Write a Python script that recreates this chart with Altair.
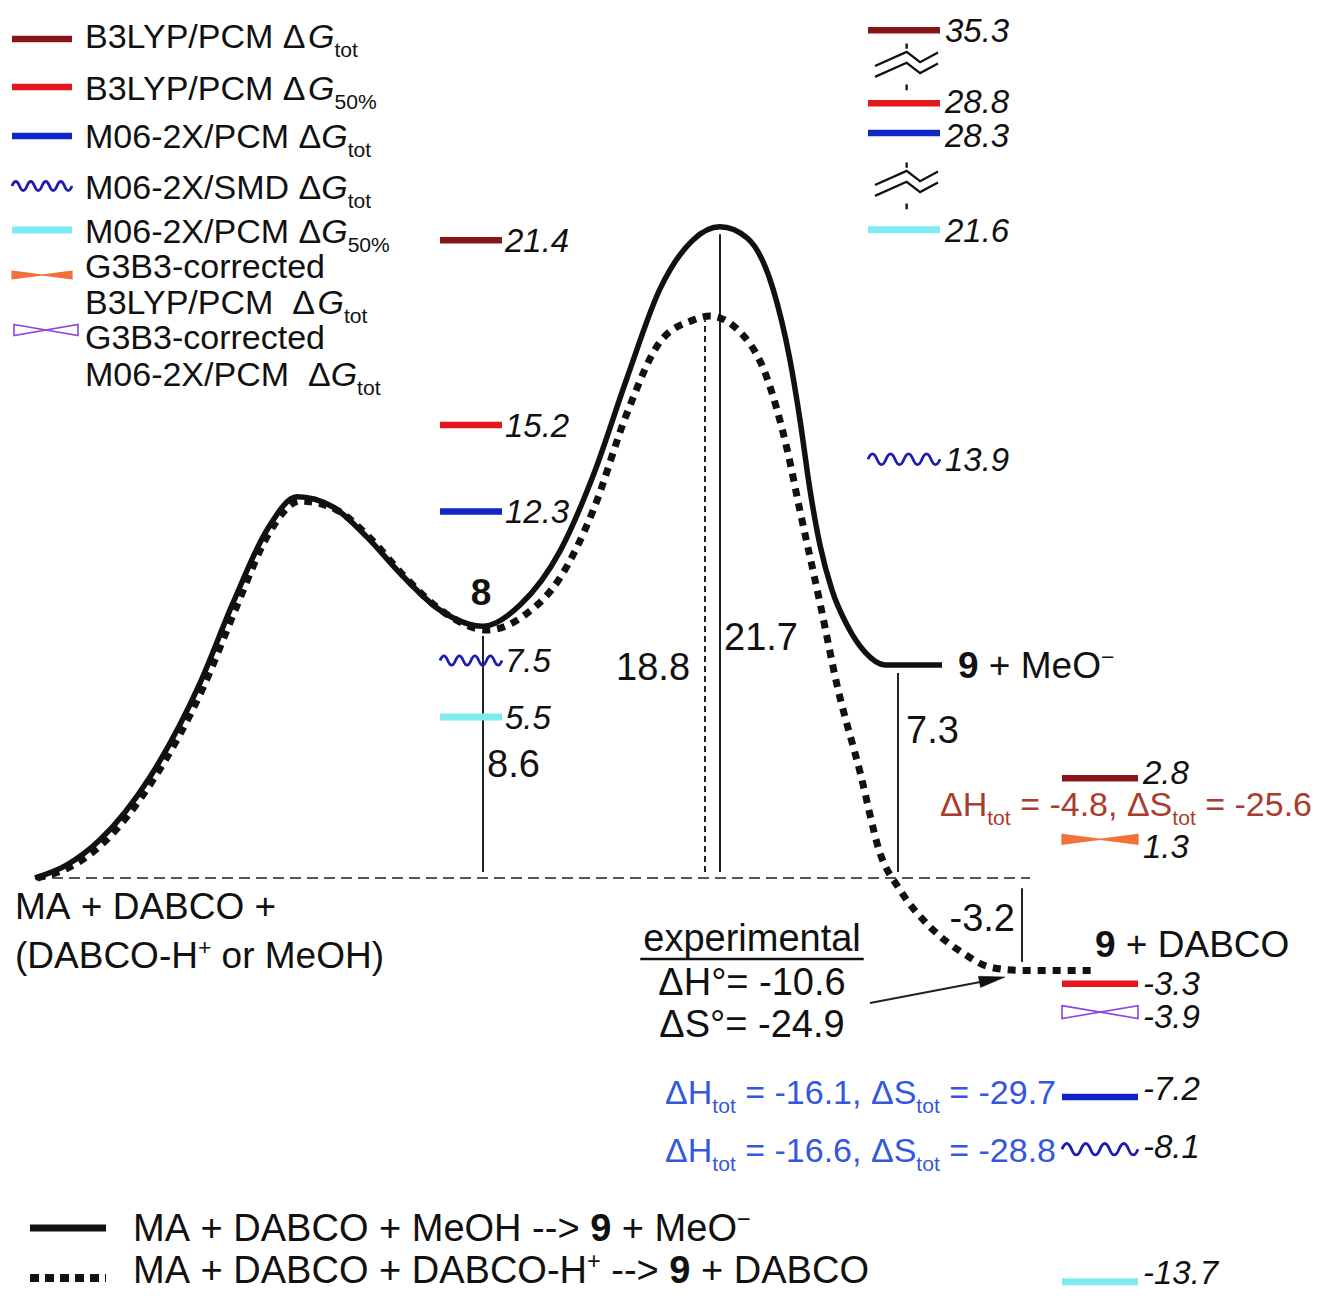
import altair as alt
import pandas as pd

# ---------------- data ----------------
# Reaction profiles: reaction coordinate (arbitrary units) and free energy (kcal/mol)
solid_rc = [35, 67, 100, 150, 200, 233, 267, 297, 333, 367, 400, 440, 483, 520, 560, 593, 627,
            660, 693, 720, 747, 773, 790, 800, 810, 820, 832, 847, 865, 885, 942]
solid_G = [0.0, 0.44, 1.28, 3.39, 6.54, 9.23, 11.68, 12.79, 12.45, 11.44, 10.23, 8.99, 8.45, 9.16,
           10.97, 13.49, 16.78, 19.77, 21.41, 21.85, 21.48, 19.77, 17.38, 15.37, 13.02, 11.17, 9.66,
           8.49, 7.58, 7.15, 7.15]
dash_rc = [37, 70, 103, 153, 203, 236, 268, 300, 335, 372, 404, 445, 487, 525, 560, 593, 627, 660,
           693, 710, 737, 767, 787, 800, 820, 837, 860, 880, 900, 930, 963, 990, 1020, 1097]
dash_G = [0.0, 0.37, 1.17, 3.29, 6.38, 9.06, 11.51, 12.65, 12.38, 11.34, 10.13, 8.89, 8.32, 8.83,
          10.07, 12.32, 15.60, 17.99, 18.72, 18.86, 18.42, 16.78, 14.40, 12.32, 9.23, 6.48, 3.56,
          0.84, -0.40, -1.64, -2.52, -2.99, -3.10, -3.10]

# energy gaps drawn as thin vertical lines
gap_labels = ["8.6", "21.7", "18.8", "7.3", "-3.2"]
gap_rc = [483, 720, 705, 898, 1022]
gap_top = [8.12, 21.6, 18.72, 6.88, -0.34]
gap_bot = [0.2, 0.2, 0.2, 0.2, -2.82]
gap_dashed = [False, False, True, False, False]

# computed levels: value (label) and the height at which the figure draws it
colA_meth = ["b3tot", "b350", "m06tot", "smd", "m0650"]
colA_vals = [21.4, 15.2, 12.3, 7.5, 5.5]
colA_pos = [21.4, 15.2, 12.3, 7.3, 5.4]
colB_meth = ["b3tot", "b350", "m06tot", "m0650", "smd"]
colB_vals = [35.3, 28.8, 28.3, 21.6, 13.9]
colB_pos = [28.45, 26.0, 25.0, 21.75, 14.05]          # broken axis above 21.6
colC_meth = ["b3tot", "g3b3", "b350", "g3m06", "m06tot", "smd", "m0650"]
colC_vals = [2.8, 1.3, -3.3, -3.9, -7.2, -8.1, -13.7]
colC_pos = [3.35, 1.3, -3.55, -4.5, -7.35, -9.1, -13.55]
colC_label_dy = [-6, 7, -1, 4, -9, -3, -10]

legend_methods = ["b3tot", "b350", "m06tot", "smd", "m0650", "g3b3", "g3m06"]

# ---------------- layout / style ----------------
W, H = 1303, 1282
PX = 29.8        # px per kcal/mol
ZERO = 878       # page y of 0 kcal/mol


def E(py):
    return (ZERO - py) / PX


FONT = "Liberation Sans"
DARKRED = "#86161a"
RED = "#e3171c"
BLUE = "#1124c6"
WBLUE = "#1c1cb0"
CYAN = "#7eecef"
ORANGE = "#f07238"
PURPLE = "#8d45dc"
BRICK = "#a83c2e"
LBLUE = "#3557dd"
INK = "#111111"

BAR = "M -1 0 L 1 0"
WAVE = ("M -1 0 Q -0.875 -0.3 -0.75 0 Q -0.625 0.3 -0.5 0 Q -0.375 -0.3 -0.25 0 "
        "Q -0.125 0.3 0 0 Q 0.125 -0.3 0.25 0 Q 0.375 0.3 0.5 0 Q 0.625 -0.3 0.75 0 Q 0.875 0.3 1 0")
BOW_O = "M -1 -0.13 L 1 0.13 L 1 -0.13 L -1 0.13 Z"
BOW_P = "M -1 -0.17 L 1 0.17 L 1 -0.17 L -1 0.17 Z"
BREAK = ("M -0.97 0.0 L 0.02 -0.44 L 0.44 -0.12 L 1 -0.42 "
         "M -0.97 0.34 L 0.02 -0.1 L 0.44 0.22 L 1 -0.08 "
         "M 0.02 -0.7 L 0.02 -0.54 M 0.02 0.58 L 0.02 0.76")
ARROW = "M 0 0 L -1 -0.22 L -1 0.22 Z"

STY = {
    "b3tot": (BAR, DARKRED, 6.5, False),
    "b350": (BAR, RED, 6.5, False),
    "m06tot": (BAR, BLUE, 6.5, False),
    "smd": (WAVE, WBLUE, 2.8, False),
    "m0650": (BAR, CYAN, 7.0, False),
    "g3b3": (BOW_O, ORANGE, 1.2, True),
    "g3m06": (BOW_P, PURPLE, 1.6, False),
}

AW = {' ': 278, '%': 889, '(': 333, ')': 333, '+': 584, ',': 278, '-': 333, '.': 278, '/': 278,
      '=': 584, '>': 584, '°': 400, 'Δ': 668, '−': 584,
      'A': 667, 'B': 667, 'C': 722, 'D': 722, 'G': 778, 'H': 722, 'L': 556, 'M': 833, 'O': 778,
      'P': 667, 'S': 667, 'X': 667, 'Y': 667,
      'a': 556, 'c': 500, 'd': 556, 'e': 556, 'i': 222, 'l': 222, 'm': 833, 'n': 556, 'o': 556,
      'p': 556, 'r': 333, 't': 278, 'x': 500}
NB = "\u00a0"


def tw(s, fs):
    return sum(AW.get(c, 556) for c in s) / 1000.0 * fs


def runs(parts, x, ybase, size, color, anchor="start"):
    segs = []
    for t, k in parts:
        fs = size * 0.62 if k in ("sub", "sup") else size
        segs.append((t, k, fs, tw(t, fs)))
    total = sum(s[3] for s in segs)
    if anchor == "middle":
        x -= total / 2
    elif anchor == "end":
        x -= total
    out = []
    for t, k, fs, w in segs:
        dy = size * 0.27 if k == "sub" else (-size * 0.36 if k == "sup" else 0.0)
        body = t.lstrip(" ")
        lead = tw(t[: len(t) - len(body)], fs)
        body = body.rstrip(" ")
        if body:
            out.append(dict(x=x + lead, y=E(ybase + dy), text=body.replace(" ", NB), size=fs,
                            color=color, style="italic" if k == "i" else "normal",
                            weight="bold" if k == "b" else "normal"))
        x += w
    return out


# ---------------- build tables ----------------
curve_solid = pd.DataFrame({"x": solid_rc, "y": solid_G})
curve_dash = pd.DataFrame({"x": dash_rc, "y": dash_G})

LBL = 33
stroke_pts, fill_pts, texts = [], [], []
columns = [
    (471, 62, 505, colA_meth, colA_vals, colA_pos, [0] * 5),
    (904, 72, 945, colB_meth, colB_vals, colB_pos, [0, -2, 2, 0, 0]),
    (1100, 76, 1143, colC_meth, colC_vals, colC_pos, colC_label_dy),
]
for cx, cw, lx, meths, vals, poss, ldy in columns:
    for m, v, p, d in zip(meths, vals, poss, ldy):
        shp, col, sw, filled = STY[m]
        row = dict(x=cx, y=p, shape=shp, size=cw * cw, stroke=col, fill=col, sw=sw, angle=0)
        (fill_pts if filled else stroke_pts).append(row)
        texts += runs([(f"{v:.1f}", "i")], lx, ZERO - p * PX + 12 + d, LBL, INK)

# legend (top left)
LEG = 34
leg_y = [39, 87, 136, 186, 230, 275, 330]
leg_text = [
    [(48, [("B3LYP/PCM Δ", "n"), ("G", "i"), ("tot", "sub")])],
    [(100, [("B3LYP/PCM Δ", "n"), ("G", "i"), ("50%", "sub")])],
    [(148, [("M06-2X/PCM Δ", "n"), ("G", "i"), ("tot", "sub")])],
    [(199, [("M06-2X/SMD Δ", "n"), ("G", "i"), ("tot", "sub")])],
    [(243, [("M06-2X/PCM Δ", "n"), ("G", "i"), ("50%", "sub")])],
    [(278, [("G3B3-corrected", "n")]), (314, [("B3LYP/PCM  Δ", "n"), ("G", "i"), ("tot", "sub")])],
    [(349, [("G3B3-corrected", "n")]), (386, [("M06-2X/PCM  Δ", "n"), ("G", "i"), ("tot", "sub")])],
]
for m, yy, lines in zip(legend_methods, leg_y, leg_text):
    shp, col, sw, filled = STY[m]
    wdt = 64 if m == "g3m06" else 60
    cxl = 46 if m == "g3m06" else 42
    row = dict(x=cxl, y=E(yy), shape=shp, size=wdt * wdt, stroke=col, fill=col, sw=sw, angle=0)
    (fill_pts if filled else stroke_pts).append(row)
    for bl, parts in lines:
        texts += runs(parts, 85, bl, LEG, INK)

# axis-break symbols and arrow head
for by in (66, 185):
    stroke_pts.append(dict(x=906, y=E(by), shape=BREAK, size=64 * 64, stroke=INK, fill=INK, sw=2.3, angle=0))
fill_pts.append(dict(x=1005, y=E(977), shape=ARROW, size=52 * 52, stroke=INK, fill=INK, sw=0.5, angle=349.1))

# rules
solid_rules, dashed_v = [], []
for lab, gx, top, bot, dsh in zip(gap_labels, gap_rc, gap_top, gap_bot, gap_dashed):
    r = dict(x=gx, x2=gx, y=bot, y2=top, sw=2.0, color="#222222")
    (dashed_v if dsh else solid_rules).append(r)
solid_rules.append(dict(x=870, x2=996, y=E(1003), y2=E(979), sw=2.0, color="#222222"))   # arrow shaft
solid_rules.append(dict(x=30, x2=106, y=E(1228), y2=E(1228), sw=7.0, color=INK))           # legend solid

# energy-gap labels
gap_text_pos = {"8.6": (487, 777, "start"), "21.7": (724, 650, "start"), "18.8": (690, 680, "end"),
                "7.3": (906, 743, "start"), "-3.2": (1015, 931, "end")}
for lab in gap_labels:
    gx, gy, anc = gap_text_pos[lab]
    texts += runs([(lab, "n")], gx, gy, 38, INK, anc)

# species labels
texts += runs([("8", "b")], 481, 605, 37, INK, "middle")
texts += runs([("9", "b"), (" + MeO", "n"), ("−", "sup")], 958, 678, 37, INK)
texts += runs([("9", "b"), (" + DABCO", "n")], 1095, 957, 37, INK)
texts += runs([("MA + DABCO +", "n")], 15, 919, 37, INK)
texts += runs([("(DABCO-H", "n"), ("+", "sup"), (" or MeOH)", "n")], 15, 968, 37, INK)

# experimental block
exp_w = tw("experimental", 38)
texts += runs([("experimental", "n")], 752, 951, 38, INK, "middle")
solid_rules.append(dict(x=752 - exp_w / 2 - 3, x2=752 + exp_w / 2 + 3, y=E(959), y2=E(959), sw=2.5, color=INK))
texts += runs([("ΔH°= -10.6", "n")], 752, 995, 38, INK, "middle")
texts += runs([("ΔS°= -24.9", "n")], 752, 1037, 38, INK, "middle")

# computed enthalpy / entropy annotations
texts += runs([("ΔH", "n"), ("tot", "sub"), (" = -4.8, ΔS", "n"), ("tot", "sub"), (" = -25.6", "n")],
              1312, 816, 34, BRICK, "end")
texts += runs([("ΔH", "n"), ("tot", "sub"), (" = -16.1, ΔS", "n"), ("tot", "sub"), (" = -29.7", "n")],
              1056, 1104, 34, LBLUE, "end")
texts += runs([("ΔH", "n"), ("tot", "sub"), (" = -16.6, ΔS", "n"), ("tot", "sub"), (" = -28.8", "n")],
              1056, 1162, 34, LBLUE, "end")

# bottom legend
texts += runs([("MA + DABCO + MeOH --> ", "n"), ("9", "b"), (" + MeO", "n"), ("−", "sup")], 133, 1241, 38, INK)
texts += runs([("MA + DABCO + DABCO-H", "n"), ("+", "sup"), (" --> ", "n"), ("9", "b"), (" + DABCO", "n")],
              133, 1283, 38, INK)

# ---------------- chart ----------------
XS = alt.Scale(domain=[8, 8 + W], nice=False, zero=False)
YS = alt.Scale(domain=[E(8 + H), E(8)], nice=False, zero=False)
xq = alt.X("x:Q", scale=XS, axis=None)
yq = alt.Y("y:Q", scale=YS, axis=None)

base_line = alt.Chart(pd.DataFrame([dict(x=35, x2=1030, y=0.0, y2=0.0)])).mark_rule(
    strokeDash=[11, 6], strokeWidth=2, color="#555555").encode(x=xq, x2="x2:Q", y=yq, y2="y2:Q")

dash_curve = alt.Chart(curve_dash).mark_line(
    interpolate="monotone", strokeWidth=7, strokeDash=[8, 7], color=INK, strokeCap="butt").encode(x=xq, y=yq)
solid_curve = alt.Chart(curve_solid).mark_line(
    interpolate="monotone", strokeWidth=5.5, color=INK, strokeJoin="round").encode(x=xq, y=yq)

rules_s = alt.Chart(pd.DataFrame(solid_rules)).mark_rule().encode(
    x=xq, x2="x2:Q", y=yq, y2="y2:Q",
    strokeWidth=alt.StrokeWidth("sw:Q", scale=None), color=alt.Color("color:N", scale=None))
rules_d = alt.Chart(pd.DataFrame(dashed_v)).mark_rule(strokeDash=[6, 4], strokeWidth=2, color="#222222").encode(
    x=xq, x2="x2:Q", y=yq, y2="y2:Q")
leg_dash = alt.Chart(pd.DataFrame([dict(x=30, x2=106, y=E(1278), y2=E(1278))])).mark_rule(
    strokeDash=[9, 6], strokeWidth=8, color=INK).encode(x=xq, x2="x2:Q", y=yq, y2="y2:Q")

pts_s = alt.Chart(pd.DataFrame(stroke_pts)).mark_point(filled=False, opacity=1, strokeCap="butt").encode(
    x=xq, y=yq, shape=alt.Shape("shape:N", scale=None), size=alt.Size("size:Q", scale=None),
    stroke=alt.Stroke("stroke:N", scale=None), strokeWidth=alt.StrokeWidth("sw:Q", scale=None))
pts_f = alt.Chart(pd.DataFrame(fill_pts)).mark_point(filled=True, opacity=1).encode(
    x=xq, y=yq, shape=alt.Shape("shape:N", scale=None), size=alt.Size("size:Q", scale=None),
    fill=alt.Fill("fill:N", scale=None), stroke=alt.Stroke("stroke:N", scale=None),
    strokeWidth=alt.StrokeWidth("sw:Q", scale=None), angle=alt.Angle("angle:Q", scale=None))

txt = pd.DataFrame(texts)


def text_layer(style, weight):
    d = txt[(txt["style"] == style) & (txt["weight"] == weight)]
    return alt.Chart(d).mark_text(align="left", baseline="alphabetic", font=FONT,
                                  fontStyle=style, fontWeight=weight).encode(
        x=xq, y=yq, text="text:N", size=alt.Size("size:Q", scale=None),
        color=alt.Color("color:N", scale=None))


chart = alt.layer(
    base_line, rules_s, rules_d, leg_dash, dash_curve, solid_curve, pts_s, pts_f,
    text_layer("normal", "normal"), text_layer("italic", "normal"), text_layer("normal", "bold"),
).properties(
    width=W, height=H, padding=0, autosize=alt.AutoSizeParams(type="none"), background="white"
).configure_view(stroke=None)

chart.save("out.html", embed_options={"renderer": "svg", "actions": False})
